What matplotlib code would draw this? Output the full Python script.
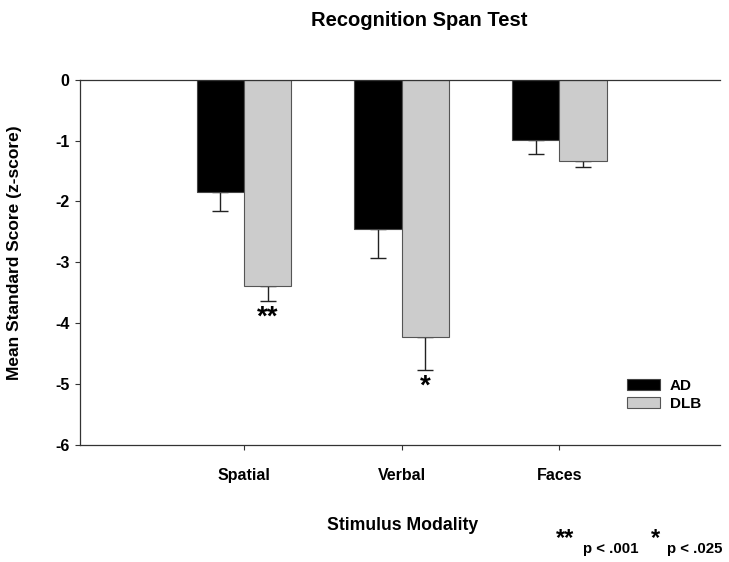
import matplotlib
matplotlib.use("Agg")
import matplotlib.pyplot as plt
import numpy as np

plt.rcParams['font.family'] = ['Liberation Sans', 'DejaVu Sans']
plt.rcParams['font.weight'] = 'bold'

categories = ["Spatial", "Verbal", "Faces"]
ad_means = [-1.85, -2.45, -0.99]
ad_errs = [0.30, 0.48, 0.23]
dlb_means = [-3.39, -4.22, -1.34]
dlb_errs = [0.24, 0.54, 0.10]
series_names = ["AD", "DLB"]
sig_marks = ["**", "*", ""]
yticks = [0, -1, -2, -3, -4, -5, -6]

W, H = 729, 562
fig = plt.figure(figsize=(W/100, H/100), dpi=100)
ax = fig.add_axes([80/W, 1-445/H, (720-80)/W, (445-79.7)/H])

x = np.arange(len(categories))
bw = 0.30
ax.bar(x - bw/2, ad_means, bw, color='black', edgecolor='#444444', linewidth=0.8, label=series_names[0], zorder=2)
ax.bar(x + bw/2, dlb_means, bw, color='#cccccc', edgecolor='#555555', linewidth=0.8, label=series_names[1], zorder=2)

ax.errorbar(x - bw/2, ad_means, yerr=[ad_errs, np.zeros(3)], fmt='none', ecolor='#222222',
            elinewidth=1.0, capsize=6, capthick=1.0, zorder=1)
ax.errorbar(x + bw/2, dlb_means, yerr=[dlb_errs, np.zeros(3)], fmt='none', ecolor='#222222',
            elinewidth=1.0, capsize=6, capthick=1.0, zorder=1)

for xi, m, e, s in zip(x + bw/2, dlb_means, dlb_errs, sig_marks):
    if s:
        ax.text(xi, m - e - 0.07, s, ha='center', va='top', fontsize=20, fontweight='bold')

ax.set_xlim(-1.04, 3.02)
ax.set_ylim(-6, 0)
ax.set_yticks(yticks)
ax.set_yticklabels([str(t) for t in yticks], fontsize=11.5, fontweight='bold')
ax.set_xticks(x)
ax.set_xticklabels(categories, fontsize=11.5, fontweight='bold')
ax.tick_params(axis='both', direction='out', length=3.5, width=0.8, color='#333333')
ax.tick_params(axis='x', pad=13)
ax.tick_params(axis='y', pad=4)
for side in ['left', 'bottom', 'top']:
    ax.spines[side].set_color('#333333')
    ax.spines[side].set_linewidth(0.9)
ax.spines['right'].set_visible(False)

fig.text(419/W, 1-20/H, "Recognition Span Test", ha='center', va='center', fontsize=14.5, fontweight='bold')
fig.text(15/W, 1-253/H, "Mean Standard Score (z-score)", ha='center', va='center', rotation=90,
         fontsize=12.5, fontweight='bold')
fig.text(403/W, 1-525/H, "Stimulus Modality", ha='center', va='center', fontsize=12.7, fontweight='bold')

fig.text(556/W, 1-539/H, "**", ha='left', va='center', fontsize=17, fontweight='bold')
fig.text(583/W, 1-549/H, "p < .001", ha='left', va='center', fontsize=10.8, fontweight='bold')
fig.text(651/W, 1-539/H, "*", ha='left', va='center', fontsize=17, fontweight='bold')
fig.text(667/W, 1-549/H, "p < .025", ha='left', va='center', fontsize=10.8, fontweight='bold')

ax.legend(loc='upper left', bbox_to_anchor=((621-80)/640, (445-373)/365.3), frameon=False,
          fontsize=11, handlelength=2.15, handleheight=0.75, handletextpad=0.65,
          labelspacing=0.25, borderaxespad=0)

fig.savefig("out.png", dpi=100)
